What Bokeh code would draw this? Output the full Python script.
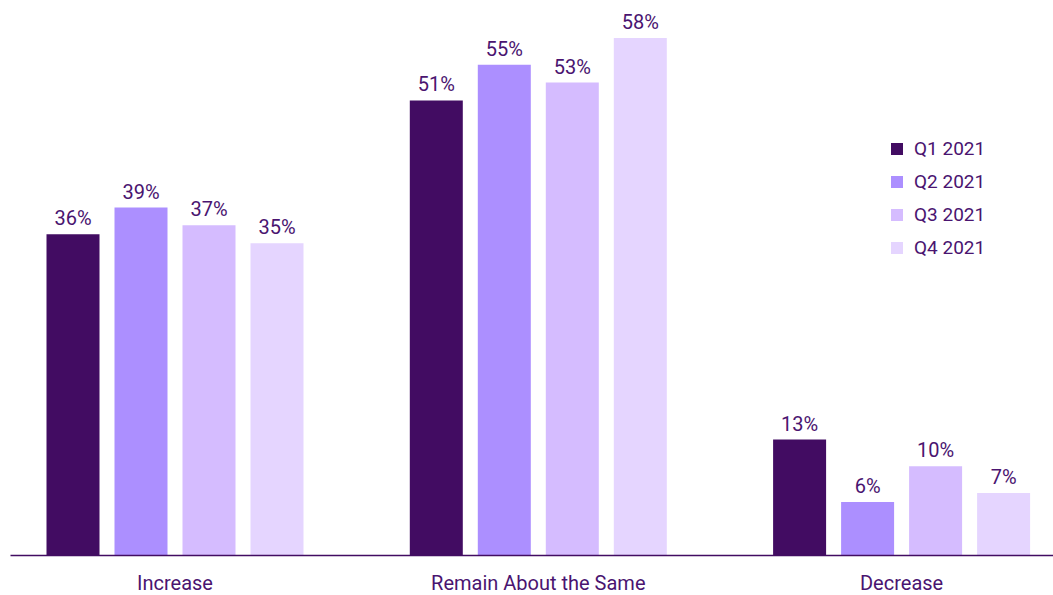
from bokeh.plotting import figure
from bokeh.models import ColumnDataSource, Range1d, FixedTicker, Legend, LegendItem
from bokeh.core.properties import value
from bokeh.embed import file_html
from bokeh.resources import INLINE

categories = ["Increase", "Remain About the Same", "Decrease"]
quarters = ["Q1 2021", "Q2 2021", "Q3 2021", "Q4 2021"]
values = {
    "Q1 2021": [36, 51, 13],
    "Q2 2021": [39, 55, 6],
    "Q3 2021": [37, 53, 10],
    "Q4 2021": [35, 58, 7],
}
colors = ["#420C62", "#AC8FFF", "#D5BCFF", "#E5D5FF"]
text_color = "#4A1470"
font = "Roboto"

group_centers = [164.5 + 363.3 * i for i in range(len(categories))]
bar_pitch = 68
bar_w = 53

p = figure(frame_width=1043, frame_height=555, output_backend="svg", toolbar_location=None,
           x_range=Range1d(0, 1043), y_range=Range1d(0, 62.2),
           min_border_left=10, min_border_right=0, min_border_top=0, min_border_bottom=0)
p.outline_line_color = None
p.grid.grid_line_color = None
p.yaxis.visible = False
p.background_fill_color = "white"
p.border_fill_color = "white"

items = []
for j, q in enumerate(quarters):
    xs = [c + (j - 1.5) * bar_pitch for c in group_centers]
    src = ColumnDataSource(dict(x=xs, top=values[q], lab=[f"{v}%" for v in values[q]]))
    r = p.vbar(x="x", top="top", width=bar_w, bottom=0, source=src,
               fill_color=colors[j], line_color=None)
    p.text(x="x", y="top", text="lab", source=src, text_align="center",
           text_baseline="bottom", y_offset=-4, text_color=text_color,
           text_font=value(font), text_font_size="20px")
    items.append(LegendItem(label=q, renderers=[r]))

xa = p.xaxis[0]
xa.ticker = FixedTicker(ticks=group_centers)
xa.major_label_overrides = {c: cat for c, cat in zip(group_centers, categories)}
xa.major_tick_line_color = None
xa.minor_tick_line_color = None
xa.major_tick_out = 0
xa.axis_line_color = "#420C62"
xa.axis_line_width = 1.5
xa.major_label_standoff = 15
xa.major_label_text_color = text_color
xa.major_label_text_font = font
xa.major_label_text_font_size = "20px"

legend = Legend(items=items, location=(879, 296), orientation="vertical",
                border_line_color=None, background_fill_alpha=0,
                glyph_width=15, glyph_height=15, label_standoff=10, spacing=10,
                padding=0, margin=0,
                label_text_font=font, label_text_font_size="19px",
                label_text_color=text_color)
p.add_layout(legend, "center")

open("out.html", "w").write(file_html(p, INLINE))
